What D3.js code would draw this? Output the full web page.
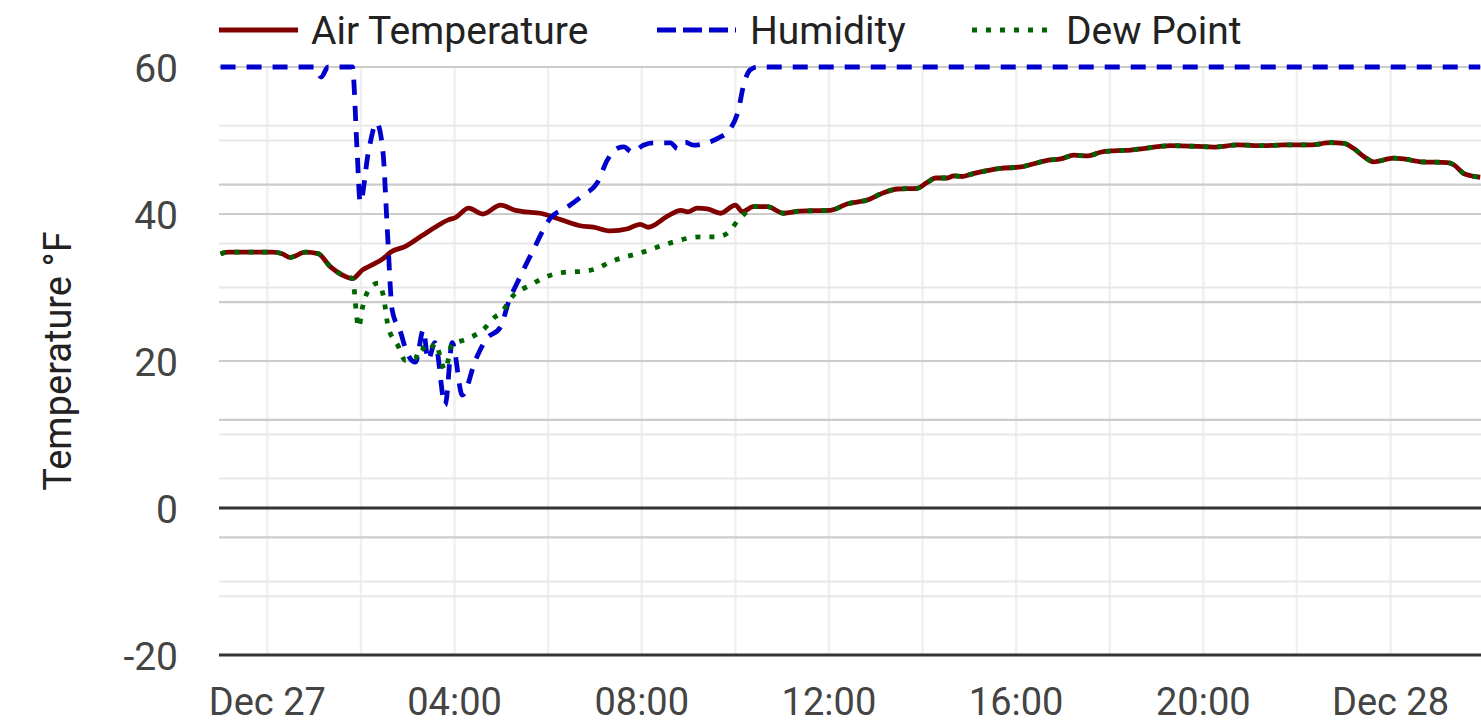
<!DOCTYPE html>
<html>
<head>
<meta charset="utf-8">
<script src="https://cdn.jsdelivr.net/npm/d3@7/dist/d3.min.js"></script>
<style>
  html, body { margin: 0; padding: 0; background: #fff; }
  svg { display: block; font-family: Roboto, "Noto Sans", sans-serif; }
</style>
</head>
<body>
<div id="chart"></div>
<script>
// ---------------- data ----------------
const seriesNames = ["Air Temperature", "Humidity", "Dew Point"];

const tempTimes = ["12-26 23:00","12-26 23:10","12-26 23:38","12-27 00:06","12-27 00:19","12-27 00:29","12-27 00:49","12-27 01:05","12-27 01:21","12-27 01:36","12-27 01:49","12-27 02:02","12-27 02:15","12-27 02:28","12-27 02:38","12-27 02:57","12-27 03:19","12-27 03:35","12-27 03:52","12-27 04:01","12-27 04:18","12-27 04:36","12-27 04:59","12-27 05:18","12-27 05:31","12-27 05:50","12-27 06:09","12-27 06:25","12-27 06:41","12-27 06:58","12-27 07:20","12-27 07:42","12-27 07:58","12-27 08:08","12-27 08:33","12-27 08:50","12-27 08:59","12-27 09:11","12-27 09:24","12-27 09:41","12-27 10:00","12-27 10:09","12-27 10:23","12-27 10:41","12-27 11:02","12-27 11:23","12-27 12:02","12-27 12:24","12-27 12:49","12-27 13:10","12-27 13:28","12-27 13:53","12-27 14:06","12-27 14:17","12-27 14:32","12-27 14:40","12-27 14:51","12-27 15:05","12-27 15:23","12-27 15:40","12-27 16:06","12-27 16:18","12-27 16:40","12-27 16:57","12-27 17:14","12-27 17:32","12-27 17:48","12-27 18:05","12-27 18:27","12-27 18:43","12-27 19:18","12-27 19:53","12-27 20:13","12-27 20:44","12-27 21:17","12-27 21:43","12-27 22:17","12-27 22:43","12-27 23:00","12-27 23:13","12-27 23:26","12-27 23:38","12-28 00:04","12-28 00:17","12-28 00:39","12-28 01:13","12-28 01:21","12-28 01:34","12-28 01:43","12-28 01:55"];
const tempValues = [34.6,34.8,34.8,34.8,34.6,34.1,34.8,34.6,32.8,31.7,31.2,32.4,33.1,33.9,34.8,35.6,37.1,38.2,39.2,39.5,40.8,40.0,41.2,40.5,40.3,40.1,39.5,38.9,38.4,38.2,37.7,38.0,38.6,38.2,39.7,40.5,40.3,40.8,40.7,40.1,41.2,40.3,41.0,41.0,40.1,40.4,40.5,41.4,41.9,42.9,43.4,43.5,44.3,44.9,44.9,45.2,45.1,45.5,45.9,46.2,46.4,46.7,47.3,47.5,48.0,47.9,48.4,48.6,48.7,48.9,49.3,49.2,49.1,49.4,49.3,49.4,49.4,49.7,49.6,48.9,47.8,47.1,47.6,47.5,47.1,47.0,46.7,45.5,45.2,45.0];

const humTimes = ["12-26 23:00","12-27 00:42","12-27 01:00","12-27 01:09","12-27 01:18","12-27 01:49","12-27 01:55","12-27 01:59","12-27 02:10","12-27 02:20","12-27 02:28","12-27 02:34","12-27 02:40","12-27 02:51","12-27 02:59","12-27 03:10","12-27 03:20","12-27 03:26","12-27 03:35","12-27 03:48","12-27 03:57","12-27 04:10","12-27 04:27","12-27 04:40","12-27 04:59","12-27 05:09","12-27 05:24","12-27 05:41","12-27 06:03","12-27 06:25","12-27 06:45","12-27 07:03","12-27 07:16","12-27 07:29","12-27 07:37","12-27 07:48","12-27 08:02","12-27 08:15","12-27 08:37","12-27 08:46","12-27 08:56","12-27 09:06","12-27 09:24","12-27 09:38","12-27 09:54","12-27 10:04","12-27 10:10","12-27 10:19","12-27 10:28","12-27 14:00","12-27 20:00","12-28 01:55"];
const humValues = [100,100,100,98.3,100,100,85.9,77.0,85.9,90.5,85.9,71.8,58.7,54.8,51.4,49.8,55.3,50.2,53.1,42.5,53.1,44.2,50.2,53.6,55.8,59.9,64.3,68.9,74.3,76.2,78.2,80.3,84.2,86.2,86.4,85.5,86.7,87.1,87.1,86.1,87.2,86.7,87.1,87.9,89.6,92.7,96.6,99.5,100,100,100,100];

const dewTimes = ["12-26 23:00","12-26 23:10","12-26 23:38","12-27 00:06","12-27 00:19","12-27 00:29","12-27 00:49","12-27 01:05","12-27 01:21","12-27 01:36","12-27 01:49","12-27 01:57","12-27 02:02","12-27 02:10","12-27 02:22","12-27 02:29","12-27 02:35","12-27 02:47","12-27 02:57","12-27 03:10","12-27 03:16","12-27 03:26","12-27 03:35","12-27 03:48","12-27 03:57","12-27 04:04","12-27 04:18","12-27 04:36","12-27 04:52","12-27 04:59","12-27 05:16","12-27 05:37","12-27 05:54","12-27 06:25","12-27 06:45","12-27 07:03","12-27 07:20","12-27 07:37","12-27 07:58","12-27 08:20","12-27 08:41","12-27 08:59","12-27 09:15","12-27 09:37","12-27 09:50","12-27 10:04","12-27 10:17","12-27 10:23","12-27 10:41","12-27 11:02","12-27 11:23","12-27 12:02","12-27 12:24","12-27 12:49","12-27 13:10","12-27 13:28","12-27 13:53","12-27 14:06","12-27 14:17","12-27 14:32","12-27 14:40","12-27 14:51","12-27 15:05","12-27 15:23","12-27 15:40","12-27 16:06","12-27 16:18","12-27 16:40","12-27 16:57","12-27 17:14","12-27 17:32","12-27 17:48","12-27 18:05","12-27 18:27","12-27 18:43","12-27 19:18","12-27 19:53","12-27 20:13","12-27 20:44","12-27 21:17","12-27 21:43","12-27 22:17","12-27 22:43","12-27 23:00","12-27 23:13","12-27 23:26","12-27 23:38","12-28 00:04","12-28 00:17","12-28 00:39","12-28 01:13","12-28 01:21","12-28 01:34","12-28 01:43","12-28 01:55"];
const dewValues = [34.6,34.8,34.8,34.8,34.6,34.1,34.8,34.6,32.8,31.7,31.2,24.6,27.3,29.7,30.6,28.7,24.6,22.2,20.1,20.4,21.9,21.2,22.4,18.8,22.4,22.6,23.1,24.2,26.0,26.5,29.0,30.3,31.3,32.1,32.2,32.6,33.5,34.1,34.7,35.5,36.2,36.7,36.9,36.9,37.4,39.2,40.5,41.0,41.0,40.1,40.4,40.5,41.4,41.9,42.9,43.4,43.5,44.3,44.9,44.9,45.2,45.1,45.5,45.9,46.2,46.4,46.7,47.3,47.5,48.0,47.9,48.4,48.6,48.7,48.9,49.3,49.2,49.1,49.4,49.3,49.4,49.4,49.7,49.6,48.9,47.8,47.1,47.6,47.5,47.1,47.0,46.7,45.5,45.2,45.0];

const xDomain = ["12-26 22:58", "12-28 01:56"];
const tempDomain = [-20, 60];
const tempTicks = [-20, 0, 20, 40, 60];
const tempMinorTicks = [-10, 10, 30, 50];
const humDomain = [0, 100];
const humTicks = [0, 20, 40, 60, 80, 100];
const humMinorTicks = [10, 30, 50, 70, 90];
const yAxisTitle = "Temperature °F";

// ---------------- layout ----------------
const W = 1481, H = 723;
const plot = { left: 219, right: 1481, top: 67, bottom: 655 };
const colors = { temp: "#800000", hum: "#0000cc", dew: "#006400" };

const parse = d3.timeParse("%m-%d %H:%M");
const x = d3.scaleTime().domain(xDomain.map(parse)).range([plot.left, plot.right]);
const yT = d3.scaleLinear().domain(tempDomain).range([plot.bottom, plot.top]);
const yH = d3.scaleLinear().domain(humDomain).range([plot.bottom, plot.top]);

const svg = d3.select("#chart").append("svg").attr("width", W).attr("height", H);

const grid = svg.append("g");
// vertical grid every 2 hours
grid.selectAll("line.v").data(x.ticks(d3.timeHour.every(2))).join("line")
  .attr("x1", d => x(d)).attr("x2", d => x(d))
  .attr("y1", plot.top).attr("y2", plot.bottom)
  .attr("stroke", "#f0f0f0").attr("stroke-width", 2.5);

function hLines(vals, scale, color, width) {
  grid.append("g").selectAll("line").data(vals).join("line")
    .attr("x1", plot.left).attr("x2", plot.right)
    .attr("y1", d => scale(d)).attr("y2", d => scale(d))
    .attr("stroke", color).attr("stroke-width", width);
}
hLines(humMinorTicks, yH, "#e8e8e8", 2);
hLines(tempMinorTicks, yT, "#e8e8e8", 2);
hLines(humTicks, yH, "#cccccc", 2.2);
hLines(tempTicks.filter(v => v !== 0 && v !== tempDomain[0]), yT, "#cccccc", 2.2);
// zero line and bottom axis line
hLines([0, tempDomain[0]], yT, "#333333", 3);

// y tick labels
svg.append("g").selectAll("text").data(tempTicks).join("text")
  .attr("x", 178).attr("y", d => yT(d) + 15)
  .attr("text-anchor", "end").attr("font-size", 39).attr("fill", "#444")
  .text(d => d);

// x tick labels
const fmtTick = d => d.getHours() === 0 ? d3.timeFormat("%b %d")(d) : d3.timeFormat("%H:%M")(d);
svg.append("g").selectAll("text").data(x.ticks(d3.timeHour.every(4))).join("text")
  .attr("x", d => x(d)).attr("y", 715)
  .attr("text-anchor", "middle").attr("font-size", 38).attr("fill", "#444")
  .text(fmtTick);

// y axis title
svg.append("text")
  .attr("transform", `translate(71, ${(plot.top + plot.bottom) / 2}) rotate(-90)`)
  .attr("text-anchor", "middle").attr("font-size", 38).attr("fill", "#222")
  .text(yAxisTitle);

// lines
svg.append("clipPath").attr("id", "clip").append("rect")
  .attr("x", plot.left).attr("y", plot.top - 4).attr("width", plot.right - plot.left).attr("height", plot.bottom - plot.top + 8);

const mk = (times, vals) => times.map((t, i) => ({ t: parse(t), v: vals[i] }));
const tempData = mk(tempTimes, tempValues);
const humData = mk(humTimes, humValues);
const dewData = mk(dewTimes, dewValues);

const lineT = d3.line().x(d => x(d.t)).y(d => yT(d.v)).curve(d3.curveMonotoneX);
const lineH = d3.line().x(d => x(d.t)).y(d => yH(d.v)).curve(d3.curveMonotoneX);

const lines = svg.append("g").attr("clip-path", "url(#clip)").attr("fill", "none");
lines.append("path").datum(tempData).attr("d", lineT)
  .attr("stroke", colors.temp).attr("stroke-width", 4.8).attr("stroke-linejoin", "round");
lines.append("path").datum(humData).attr("d", lineH)
  .attr("stroke", colors.hum).attr("stroke-width", 4.8).attr("stroke-dasharray", "15,11");
lines.append("path").datum(dewData).attr("d", lineT)
  .attr("stroke", colors.dew).attr("stroke-width", 4.8).attr("stroke-dasharray", "5,9");

// legend
const legendItems = [
  { name: seriesNames[0], color: colors.temp, dash: null, x0: 219, tx: 311 },
  { name: seriesNames[1], color: colors.hum, dash: "19,7", x0: 657, tx: 750 },
  { name: seriesNames[2], color: colors.dew, dash: "5,9", x0: 972, tx: 1066 }
];
const lg = svg.append("g");
legendItems.forEach(it => {
  lg.append("line").attr("x1", it.x0).attr("x2", it.x0 + 79).attr("y1", 30).attr("y2", 30)
    .attr("stroke", it.color).attr("stroke-width", 5)
    .attr("stroke-dasharray", it.dash);
  lg.append("text").attr("x", it.tx).attr("y", 44).attr("font-size", 39).attr("fill", "#222")
    .text(it.name);
});
</script>
</body>
</html>
